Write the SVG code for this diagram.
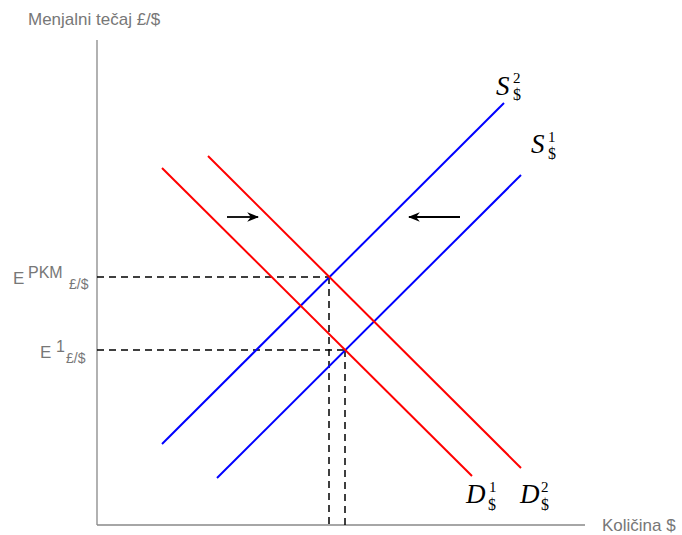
<svg xmlns="http://www.w3.org/2000/svg" width="682" height="535" viewBox="0 0 682 535">
<defs>
<marker id="ah" viewBox="0 0 10 10" refX="9" refY="5" markerWidth="12" markerHeight="12" markerUnits="userSpaceOnUse" orient="auto">
<path d="M0,1 L10,5 L0,9 L3,5 Z" fill="#000"/>
</marker>
<style>
.ax{stroke:#888;stroke-width:1.3;fill:none}
.axl{font-family:"Liberation Sans",Arial,sans-serif;font-size:17px;fill:#777}
.e{font-family:"Liberation Sans",Arial,sans-serif;font-size:17px;fill:#777}
.ep{font-family:"Liberation Sans",Arial,sans-serif;font-size:16px;fill:#777}
.es{font-family:"Liberation Sans",Arial,sans-serif;font-size:14px;fill:#777}
.dash{stroke:#000;stroke-width:1.5;stroke-dasharray:7,5;fill:none}
.sup{stroke:#00f;stroke-width:2;fill:none}
.dem{stroke:#f00;stroke-width:2;fill:none}
.cl{font-family:"Liberation Serif","Times New Roman",serif;font-style:italic;font-size:27px;fill:#000}
.cs{font-family:"Liberation Serif","Times New Roman",serif;font-size:15px;fill:#000}
.cd{font-family:"Liberation Serif","Times New Roman",serif;font-size:16px;fill:#000}
.arr{stroke:#000;stroke-width:1.8;fill:none;marker-end:url(#ah)}
</style>
</defs>
<rect width="682" height="535" fill="#fff"/>
<g id="axes">
<line class="ax" x1="97" y1="40" x2="97" y2="525"/>
<line class="ax" x1="97" y1="525" x2="585" y2="525"/>
<text class="axl" x="28" y="25">Menjalni tečaj £/$</text>
<text class="axl" x="602" y="531">Količina $</text>
</g>
<g id="connectors">
<line class="dash" x1="97" y1="277" x2="330" y2="277"/>
<line class="dash" x1="97" y1="350" x2="345" y2="350"/>
<line class="dash" x1="329" y1="277" x2="329" y2="525"/>
<line class="dash" x1="345" y1="350" x2="345" y2="525"/>
<line class="arr" x1="227" y1="217" x2="258" y2="217"/>
<line class="arr" x1="460" y1="217" x2="409" y2="217"/>
</g>
<g id="S2">
<line class="sup" x1="162" y1="444" x2="504" y2="103"/>
<text class="cl" x="496" y="95">S</text>
<text class="cs" x="513" y="83">2</text>
<text class="cd" x="513" y="100">$</text>
</g>
<g id="S1">
<line class="sup" x1="217" y1="478" x2="521" y2="175"/>
<text class="cl" x="531" y="153">S</text>
<text class="cs" x="548" y="142">1</text>
<text class="cd" x="548" y="159">$</text>
</g>
<g id="D1">
<line class="dem" x1="162" y1="168" x2="472" y2="476"/>
<text class="cl" x="466" y="503">D</text>
<text class="cs" x="489" y="492">1</text>
<text class="cd" x="488" y="510">$</text>
</g>
<g id="D2">
<line class="dem" x1="208" y1="156" x2="521" y2="468"/>
<text class="cl" x="520" y="503">D</text>
<text class="cs" x="541" y="492">2</text>
<text class="cd" x="541" y="510">$</text>
</g>
<g id="EPKM">
<text class="e" x="13" y="284">E</text>
<text class="ep" x="28" y="278">PKM</text>
<text class="es" x="69" y="289">£/$</text>
</g>
<g id="E1">
<text class="e" x="40" y="358">E</text>
<text class="ep" x="56" y="352">1</text>
<text class="es" x="66" y="363">£/$</text>
</g>
</svg>
